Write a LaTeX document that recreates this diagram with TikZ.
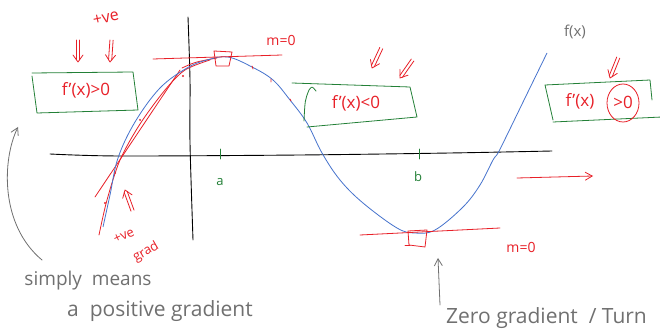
\documentclass[tikz,border=0pt]{standalone}
\usepackage{fontspec}
\setmainfont{Open Sans}
\usetikzlibrary{arrows.meta}
\definecolor{pen}{RGB}{232,32,40}
\definecolor{gbox}{RGB}{35,128,55}
\definecolor{bcurve}{RGB}{70,115,205}
\definecolor{note}{RGB}{112,112,112}
\tikzset{
  redln/.style={draw=pen, line width=0.8pt, line cap=round, line join=round},
  boxln/.style={draw=gbox, line width=0.8pt, line cap=round, line join=round},
  axisln/.style={draw=black, line width=0.9pt, line cap=round},
  noteln/.style={draw=note, line width=0.8pt, line cap=round, -{Straight Barb[length=7pt,width=8pt]}},
  redtxt/.style={text=pen, font=\fontsize{17}{17}\selectfont, inner sep=0pt},
  notetxt/.style={text=note, font=\fontsize{19}{19}\selectfont, inner sep=0pt},
  greentxt/.style={text=gbox, font=\fontsize{13}{13}\selectfont, inner sep=0pt},
  pics/dblarr/.style={code={
    \draw[redln] (-1.6,-22) -- (-1.6,-2) (1.6,-22) -- (1.6,-2);
    \draw[redln] (-5,-7) -- (0,0) -- (5,-7);
  }}
}
\begin{document}
\begin{tikzpicture}[x=1pt,y=-1pt]
\useasboundingbox (0,0) rectangle (660,336);
\clip (0,0) rectangle (660,336);
\fill[white] (0,0) rectangle (660,336);

% axes
\draw[axisln] plot[smooth] coordinates {(50,154) (120,156) (300,155) (450,153) (552,151)};
\draw[axisln] plot[smooth] coordinates {(188,17) (190,80) (190,143) (193,240)};

% ticks and labels
\draw[boxln] (220,149) -- (220,159);
\draw[boxln] (419,149) -- (419,159);
\node[greentxt] (la) at (220,182) {a};
\node[greentxt] (lb) at (418,177) {b};

% red tangent strokes on rising part
\draw[redln] (95,197) -- (180,70);
\draw[redln] plot[smooth] coordinates {(99,235) (107,200) (120,160) (140,124) (165,90) (185,70) (210,60)};
\draw[redln] (182,68) .. controls (195,62) .. (217,58);
\fill[pen] (105,203) circle (1.2) (115,173) circle (1.2) (183,76) circle (1.1) (140,120) circle (1);

% blue curve
\draw[bcurve, line width=0.8pt] plot[smooth, tension=0.6] coordinates {
  (103,227) (110,195) (118,158) (135,122) (160,88) (187,68) (207,60) (228,57)
  (252,67) (273,80) (290,100) (307,123) (322,153) (340,180) (363,203)
  (397,228) (415,233) (435,230) (463,207) (480,185) (493,160) (498,153)
  (508,133) (525,98) (547,53)};

% max tangent
\draw[redln] (153,59) -- (282,55);
\draw[redln] (214,51) -- (232,52) -- (229,66) -- (216,66) -- cycle;
\node[redtxt, font=\fontsize{14}{14}\selectfont] (m1) at (281,40) {m=0};
\draw[redln] (252,66) -- (253,69) (271,79) -- (271,82) (290,99) -- (291,101);

% min tangent
\draw[redln] (360,235) -- (500,228);
\draw[redln] (408,231) -- (427,230) -- (425,247) -- (409,245) -- cycle;
\draw[redln] (405,245) -- (410,245);
\node[redtxt, font=\fontsize{14}{14}\selectfont] (m2) at (521,247) {m=0};

% box 1
\draw[boxln] (32,73) -- (133,72) -- (138,110) -- (37,113) -- (32,76);
\node[redtxt] (t1) at (86,90) {f'(x)>0};
\pic at (78,62) {dblarr};
\pic[rotate=-4] at (110,62) {dblarr};
\node[redtxt, font=\fontsize{16}{16}\selectfont, rotate=12] (pve) at (106,18) {+ve};

% box 2
\draw[boxln] (292,83) -- (410,87) -- (417,117) -- (307,127);
\draw[boxln] (304,121) .. controls (305,100) .. (309,90) .. controls (312,86) .. (316,91);
\node[redtxt] (t2) at (356,103) {f'(x)<0};
\pic[rotate=-25] at (372,68) {dblarr};
\pic[rotate=-35] at (400,78) {dblarr};

% box 3
\draw[boxln] (553,120) -- (545,85) -- (650,80) -- (652,100);
\draw[boxln] (553,122) -- (662,117);
\node[redtxt] (t3) at (580,101) {f'(x)};
\node[redtxt] (t3b) at (623,102) {>0};
\draw[redln] (623,103) ellipse (16 and 19);
\pic[rotate=-22] at (610,78) {dblarr};

% f(x)
\node[notetxt, font=\fontsize{15}{15}\selectfont] (fx) at (575,32) {f(x)};

% red arrow to the right
\coordinate (ra1) at (517,178);
\coordinate (ra2) at (593,176);
\draw[redln, -{Straight Barb[length=7pt,width=8pt]}] (ra1) -- (ra2);

% +ve grad
\pic[rotate=200] at (125,190) {dblarr};
\node[redtxt, font=\fontsize{13}{13}\selectfont, rotate=25] (pv2) at (124,236) {+ve};
\node[redtxt, font=\fontsize{13}{13}\selectfont, rotate=30] (gr) at (146,252) {grad};

% notes
\coordinate (n1a) at (42,260);
\coordinate (n1b) at (18,127);
\draw[noteln] (n1a) .. controls (0,225) and (2,160) .. (n1b);
\node[notetxt] (s1) at (88,281) {simply\ \ means};
\node[notetxt, font=\fontsize{21}{21}\selectfont] (s2) at (160,311) {a\ \ positive\ gradient};

\coordinate (n2a) at (440,305);
\coordinate (n2b) at (438,258);
\draw[noteln] (n2a) -- (n2b);
\node[notetxt, font=\fontsize{21}{21}\selectfont, anchor=west] (zg) at (446,318) {Zero gradient \ / Turn};
\end{tikzpicture}
\end{document}
